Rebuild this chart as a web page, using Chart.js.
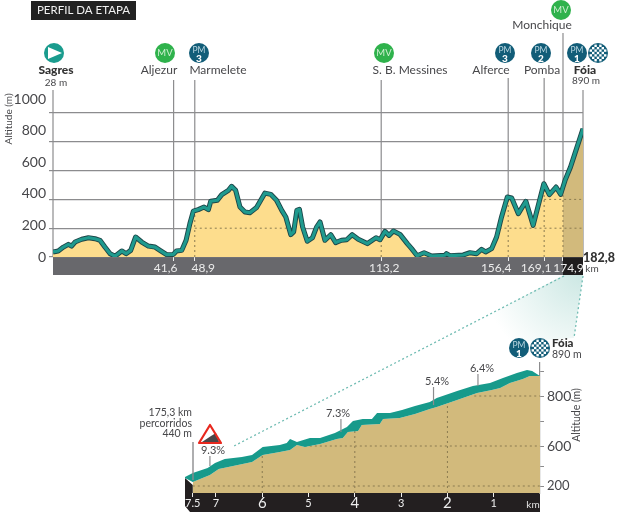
<!DOCTYPE html>
<html>
<head>
<meta charset="utf-8">
<title>Perfil da etapa</title>
<script src="https://cdn.jsdelivr.net/npm/chart.js@4"></script>
<style>
  html, body { margin: 0; padding: 0; background: #fff; overflow: hidden; }
  canvas { position: absolute; left: 0; top: 0; }
</style>
</head>
<body>
<canvas id="stage" width="630" height="515"></canvas>
<canvas id="climb" width="630" height="515"></canvas>
<script>
// stage profile, km / altitude (m)
const stageKm = [0, 1.8, 3.6, 5.3, 6.4, 7.6, 9.9, 12.2, 14.5, 16.2, 17.9, 19.7, 21.4, 23.7, 25.2, 26.8, 28.5, 30.6, 32.9, 35.2, 36.9, 39.2, 41.5, 42.6, 44.4, 45.9, 47.2, 48.4, 50.1, 52.1, 53.6, 54.4, 56.7, 58.2, 60.5, 61.6, 63, 64.5, 66.2, 67.9, 70.2, 73.1, 75.1, 77.1, 78.9, 80.3, 82, 83, 84.1, 85, 86.1, 87.7, 89.5, 90.9, 92.1, 93.8, 95.8, 97.5, 99.5, 101.3, 103.2, 105.3, 108.4, 111.4, 112.8, 114.5, 115.9, 117.4, 119.7, 122.2, 123.7, 125.6, 128, 130.6, 135.2, 135.7, 136.9, 141.5, 143.8, 146.1, 147.8, 149.2, 151.3, 153, 154.7, 156.7, 158.2, 160.5, 163.1, 165.6, 169.3, 171.2, 173.5, 175.1, 175.9, 176.6, 178.5, 180, 182.8];
const stageAlt = [35, 42, 69, 88, 76, 104, 123, 134, 127, 116, 69, 23, 5, 42, 23, 46, 139, 104, 76, 69, 46, 16, 18, 42, 46, 116, 231, 319, 329, 347, 329, 387, 394, 433, 463, 491, 463, 347, 313, 308, 343, 444, 435, 394, 324, 278, 155, 174, 324, 331, 208, 109, 134, 208, 243, 116, 155, 100, 116, 120, 155, 123, 93, 134, 120, 178, 150, 181, 157, 93, 58, 9, 30, 7, 12, 23, 9, 14, 30, 23, 53, 35, 58, 139, 278, 417, 410, 301, 387, 220, 509, 433, 486, 435, 487, 532, 625, 718, 890];
const stageGrid = [0, 200, 400, 600, 800, 1000];
// where the km marks sit on the band
const bandKm = [41.6, 48.9, 113.2, 157, 169.4, 175.9];
const bandLabels = ['41,6', '48,9', '113,2', '156,4', '169,1', '174,9'];
const markKm = [0, 41.6, 48.9, 113.2, 157, 169.4, 175.9, 182.8];
const dottedKm = [48.9, 113.2, 157, 169.4, 175.9];
const dottedAlt = [319, 135, 410, 500, 487];

// last climb, km to go / altitude (m)
const ridgeKm = [7.67, 7.5, 7.18, 7.02, 6.81, 6.44, 6.22, 5.99, 5.62, 5.47, 5.4, 5.25, 4.97, 4.75, 4.43, 4.17, 4.04, 3.83, 3.63, 3.52, 3.24, 2.98, 2.7, 2.38, 2.23, 1.79, 1.45, 1.08, 0.8, 0.5, 0.28, 0.17, 0];
const ridgeAlt = [476, 492, 512, 532, 548, 556, 564, 596, 604, 612, 628, 616, 632, 632, 652, 676, 700, 708, 708, 732, 732, 744, 760, 776, 792, 820, 840, 852, 872, 892, 904, 900, 880];
const climbKm = [7.5, 7.13, 6.94, 6.63, 6.22, 5.99, 5.62, 5.4, 5.25, 5.08, 4.75, 4.39, 4.26, 4.15, 3.93, 3.85, 3.46, 3.39, 3.03, 2.7, 2.38, 2.23, 1.79, 1.36, 1.04, 0.86, 0.65, 0.37, 0.22, 0];
const climbAlt = [456, 484, 508, 520, 536, 564, 576, 584, 604, 596, 608, 628, 632, 656, 660, 684, 688, 708, 712, 728, 748, 756, 784, 812, 824, 832, 852, 868, 880, 880];
const ribbonStartKm = [7.67];
const ribbonStartAlt = [472];
const climbTicks = [7.5, 7, 6, 5, 4, 3, 2, 1];
const climbTickLabels = ['7.5', '7', '6', '5', '4', '3', '2', '1'];
const altTicks = [900, 800, 700, 600, 520, 440];
const altTickLabels = ['', '800', '', '600', '', '200'];
const slopeLabels = ['9.3%', '7.3%', '5.4%', '6.4%'];
const slopeKm = [7.13, 4.3, 2.3, 1.34];
const slopeAlt = [520, 656, 764, 840];

const FONT = 'Lato, "Open Sans", sans-serif';
const INK = '#47474a';
const GRID = '#8c8c8e';

function pts(xs, ys) {
    return xs.map((x, i) => ({ x: x, y: ys[i] }));
}

function text(ctx, str, x, y, size, opts) {
    opts = opts || {};
    ctx.save();
    ctx.font = (opts.weight || '400') + ' ' + size + 'px ' + FONT;
    ctx.fillStyle = opts.color || INK;
    ctx.textAlign = opts.align || 'center';
    ctx.textBaseline = 'middle';
    if (opts.rotate) {
        ctx.translate(x, y);
        ctx.rotate(opts.rotate);
        ctx.fillText(str, 0, 0);
    } else {
        ctx.fillText(str, x, y);
    }
    ctx.restore();
}

function line(ctx, x1, y1, x2, y2, color, width, dash) {
    ctx.save();
    ctx.strokeStyle = color;
    ctx.lineWidth = width;
    if (dash) ctx.setLineDash(dash);
    ctx.beginPath();
    ctx.moveTo(x1, y1);
    ctx.lineTo(x2, y2);
    ctx.stroke();
    ctx.restore();
}

function circle(ctx, x, y, r, color) {
    ctx.fillStyle = color;
    ctx.beginPath();
    ctx.arc(x, y, r, 0, Math.PI * 2);
    ctx.fill();
}

function mvIcon(ctx, x, y) {
    circle(ctx, x, y, 10, '#2fb24c');
    text(ctx, 'MV', x, y, 9.5, { color: '#cdeed0' });
}

function pmIcon(ctx, x, y, n) {
    circle(ctx, x, y, 10, '#125d78');
    text(ctx, 'PM', x, y - 3, 8.5, { color: '#bcd8e2' });
    text(ctx, n, x, y + 5.5, 10, { color: '#fff', weight: '900' });
}

function checkerIcon(ctx, x, y) {
    circle(ctx, x, y, 10, '#125d78');
    ctx.fillStyle = '#fff';
    for (let i = -3; i <= 3; i++) {
        for (let j = -3; j <= 3; j++) {
            if ((i + j) % 2 !== 0) continue;
            const dx = i * 2.4, dy = j * 2.4;
            if (dx * dx + dy * dy < 72) ctx.fillRect(x + dx - 1.2, y + dy - 1.2, 2.4, 2.4);
        }
    }
}

// fixes the axis thickness so the plot area lands where the original has it
function fixWidth(w) { return scale => { scale.width = w; }; }
function fixHeight(h) { return scale => { scale.height = h; }; }
function setTicks(values) { return scale => { scale.ticks = values.map(v => ({ value: v })); }; }

const stageBack = {
    id: 'stageBack',
    beforeDraw(chart) {
        const { ctx, chartArea: a, scales } = chart;
        const x = scales.x;
        // fan towards the zoomed climb
        ctx.save();
        ctx.beginPath();
        ctx.moveTo(564, 275);
        ctx.lineTo(583, 275);
        ctx.lineTo(574, 338);
        ctx.lineTo(470, 345);
        ctx.lineTo(440, 340);
        ctx.closePath();
        ctx.clip();
        const g = ctx.createRadialGradient(582, 272, 4, 582, 272, 100);
        g.addColorStop(0, '#cde8e4');
        g.addColorStop(0.55, '#e9f5f3');
        g.addColorStop(1, '#ffffff');
        ctx.fillStyle = g;
        ctx.fillRect(420, 270, 170, 90);
        ctx.restore();
        line(ctx, 564, 276, 232, 447, '#72bdb4', 1.3, [2, 2.5]);
        line(ctx, 583, 276, 574, 338, '#72bdb4', 1.3, [2, 2.5]);

        // km band, under the axis so its tick marks stay visible
        ctx.fillStyle = '#68686c';
        ctx.fillRect(a.left, a.bottom, a.right - a.left, 18);
        const end = x.getPixelForValue(175.9);
        ctx.fillStyle = '#1f1d1e';
        ctx.fillRect(end, a.bottom, a.right - end, 18);
    },
    beforeDatasetsDraw(chart) {
        const { ctx, chartArea: a, scales } = chart;
        // solid marker lines, the fill covers their lower part
        const tops = [90, 80, 80, 80, 78, 78, 33, 90];
        markKm.forEach((km, i) => {
            const px = scales.x.getPixelForValue(km);
            line(ctx, px, tops[i], px, a.bottom, GRID, 1.2);
        });
    },
    afterDraw(chart) {
        const { ctx, scales } = chart;
        const x = scales.x;
        const offs = [-8, 8.5, 3, -12, -8, 5.5];
        bandKm.forEach((km, i) => {
            text(ctx, bandLabels[i], x.getPixelForValue(km) + offs[i], 268, 12, { color: '#ececec' });
        });

        // title box
        ctx.fillStyle = '#222';
        ctx.fillRect(31, 1, 105, 19);
        text(ctx, 'PERFIL DA ETAPA', 83.5, 10.5, 11.5, { color: '#f2f2f2' });

        text(ctx, 'Altitude (m)', 9, 119, 10, { rotate: -Math.PI / 2 });

        // start
        circle(ctx, 54, 53, 10, '#1a9c8e');
        ctx.fillStyle = '#fff';
        ctx.beginPath();
        ctx.moveTo(48, 47);
        ctx.lineTo(62, 53);
        ctx.lineTo(48, 59);
        ctx.closePath();
        ctx.fill();
        text(ctx, 'Sagres', 56, 70, 12, { weight: '900', color: '#333' });
        text(ctx, '28 m', 56, 83, 10);

        mvIcon(ctx, 165, 53);
        text(ctx, 'Aljezur', 159, 70, 12);
        pmIcon(ctx, 199, 53, '3');
        text(ctx, 'Marmelete', 218, 70, 12);
        mvIcon(ctx, 384, 53);
        text(ctx, 'S. B. Messines', 410, 70, 12);
        pmIcon(ctx, 505, 53, '3');
        text(ctx, 'Alferce', 491, 70, 12);
        pmIcon(ctx, 541, 53, '2');
        text(ctx, 'Pomba', 542, 70, 12);
        mvIcon(ctx, 561, 10);
        text(ctx, 'Monchique', 542, 25, 12);
        pmIcon(ctx, 577, 53, '1');
        checkerIcon(ctx, 598, 53);
        text(ctx, 'Fóia', 585, 70, 12, { weight: '900', color: '#333' });
        text(ctx, '890 m', 586, 81, 10);

        text(ctx, '182,8', 599, 258, 12.5, { weight: '900', color: '#333' });
        text(ctx, 'km', 592, 269, 10);
    }
};

const climbBack = {
    id: 'climbBack',
    beforeDraw(chart) {
        const { ctx, chartArea: a, scales } = chart;
        const left = scales.x.getPixelForValue(7.5);
        // dark base with the bevelled left side
        ctx.fillStyle = '#231f20';
        ctx.beginPath();
        ctx.moveTo(185, 478);
        ctx.lineTo(left, 485);
        ctx.lineTo(left, a.bottom);
        ctx.lineTo(a.right, a.bottom);
        ctx.lineTo(a.right, 512);
        ctx.lineTo(190, 512);
        ctx.lineTo(185, 506);
        ctx.closePath();
        ctx.fill();
    },
    afterDraw(chart) {
        const { ctx, scales } = chart;
        const x = scales.x, y = scales.y;
        line(ctx, 193, 442, 193, 480, GRID, 1.4);

        const labelX = [213, 338, 437, 482];
        const labelY = [450, 413, 381, 368];
        slopeLabels.forEach((s, i) => {
            const px = x.getPixelForValue(slopeKm[i]);
            line(ctx, px, labelY[i] + 6, px, y.getPixelForValue(slopeAlt[i]), GRID, 1.2);
            text(ctx, s, labelX[i], labelY[i], 11);
        });

        text(ctx, '175,3 km', 192, 413, 10.5, { align: 'right' });
        text(ctx, 'percorridos', 192, 423.5, 10.5, { align: 'right' });
        text(ctx, '440 m', 192, 434, 10.5, { align: 'right' });

        // steep slope warning
        ctx.save();
        ctx.lineJoin = 'round';
        ctx.strokeStyle = '#e8281e';
        ctx.fillStyle = '#fff';
        ctx.lineWidth = 2.2;
        ctx.beginPath();
        ctx.moveTo(210, 425);
        ctx.lineTo(221, 443);
        ctx.lineTo(199, 443);
        ctx.closePath();
        ctx.fill();
        ctx.fillStyle = '#4a4648';
        ctx.beginPath();
        ctx.moveTo(202, 442);
        ctx.lineTo(211, 436);
        ctx.lineTo(216, 433);
        ctx.lineTo(219, 442);
        ctx.closePath();
        ctx.fill();
        ctx.beginPath();
        ctx.moveTo(210, 425);
        ctx.lineTo(221, 443);
        ctx.lineTo(199, 443);
        ctx.closePath();
        ctx.stroke();
        ctx.restore();

        pmIcon(ctx, 519, 348, '1');
        checkerIcon(ctx, 540, 348);
        text(ctx, 'Fóia', 552, 343, 11.5, { align: 'left', weight: '900', color: '#333' });
        text(ctx, '890 m', 552, 355, 10.5, { align: 'left' });
        text(ctx, 'km', 533, 505, 10, { color: '#e4e4e4' });
        text(ctx, 'Altitude (m)', 577, 415, 10.5, { rotate: -Math.PI / 2 });
    }
};

const dots = { borderColor: '#8a7a50', borderWidth: 1, borderDash: [2, 3], pointRadius: 0, fill: false, order: 3 };

new Chart(document.getElementById('stage'), {
    type: 'line',
    plugins: [stageBack],
    data: {
        datasets: [
            { data: pts(stageKm, stageAlt), borderWidth: 0, pointRadius: 0, fill: 'origin', backgroundColor: '#fddd8d', order: 6 },
            {
                data: pts(stageKm, stageAlt).filter(p => p.x >= 175.9),
                borderWidth: 0, pointRadius: 0, fill: 'origin', backgroundColor: '#d2ba7c', order: 5
            },
            Object.assign({ data: [{ x: 48.9, y: 200 }, { x: 81, y: 200 }] }, dots),
            Object.assign({ data: [{ x: 154, y: 200 }, { x: 182.8, y: 200 }] }, dots),
            Object.assign({ data: [{ x: 169.4, y: 400 }, { x: 182.8, y: 400 }] }, dots),
            ...dottedKm.map((km, i) => Object.assign({ data: [{ x: km, y: 0 }, { x: km, y: dottedAlt[i] }] }, dots)),
            { data: pts(stageKm, stageAlt), borderColor: '#1d4548', borderWidth: 5, borderJoinStyle: 'round', pointRadius: 0, fill: false, order: 2 },
            { data: pts(stageKm, stageAlt), borderColor: '#1f9a8e', borderWidth: 3.2, borderJoinStyle: 'round', pointRadius: 0, fill: false, order: 1 }
        ]
    },
    options: {
        responsive: false,
        animation: false,
        layout: { padding: { top: 20, right: 47, left: 0, bottom: 0 } },
        plugins: { legend: { display: false }, tooltip: { enabled: false } },
        scales: {
            x: {
                type: 'linear', min: 0, max: 182.8,
                afterBuildTicks: setTicks(bandKm),
                afterFit: fixHeight(258),
                border: { display: false },
                ticks: { display: false },
                grid: { drawOnChartArea: false, tickColor: '#eeeeee', tickLength: 4, lineWidth: 1 }
            },
            y: {
                min: 0, max: 1646, weight: 0,
                afterBuildTicks: setTicks(stageGrid),
                afterFit: fixWidth(0),
                border: { display: false },
                ticks: { display: false },
                grid: { color: GRID, lineWidth: 1.2, tickLength: 4, tickColor: GRID }
            },
            // tick labels sit a little off their grid lines in the original, so they get their own axis
            yLabels: {
                type: 'linear', position: 'left', min: 0, max: 1500, weight: 1,
                afterBuildTicks: setTicks(stageGrid),
                afterFit: fixWidth(53),
                border: { display: false },
                grid: { display: false, drawTicks: false },
                ticks: { color: INK, font: { family: FONT, size: 14 }, padding: 7, callback: v => String(v) }
            }
        }
    }
});

new Chart(document.getElementById('climb'), {
    type: 'line',
    plugins: [climbBack],
    data: {
        datasets: [
            { data: pts(climbKm, climbAlt), borderWidth: 0, pointRadius: 0, fill: 'start', backgroundColor: '#d2ba7c', order: 6 },
            Object.assign({ data: [{ x: 7.5, y: 440 }, { x: 0, y: 440 }] }, dots),
            Object.assign({ data: [{ x: 5.08, y: 600 }, { x: 0, y: 600 }] }, dots),
            Object.assign({ data: [{ x: 1.42, y: 800 }, { x: 0, y: 800 }] }, dots),
            Object.assign({ data: [{ x: 6, y: 412 }, { x: 6, y: 564 }] }, dots),
            Object.assign({ data: [{ x: 4, y: 412 }, { x: 4, y: 660 }] }, dots),
            Object.assign({ data: [{ x: 2, y: 412 }, { x: 2, y: 770 }] }, dots),
            { data: pts(ridgeKm, ridgeAlt), borderWidth: 0, pointRadius: 0, backgroundColor: '#179a8b', fill: { target: 8 }, order: 2 },
            { data: pts(ribbonStartKm.concat(climbKm), ribbonStartAlt.concat(climbAlt)), borderWidth: 0, pointRadius: 0, fill: false, order: 7 }
        ]
    },
    options: {
        responsive: false,
        animation: false,
        layout: { padding: { top: 363, left: 184, right: 0, bottom: 0 } },
        plugins: { legend: { display: false }, tooltip: { enabled: false } },
        scales: {
            x: {
                type: 'linear', reverse: true, min: 0, max: 7.69,
                afterBuildTicks: setTicks(climbTicks),
                afterFit: fixHeight(22),
                border: { display: false },
                grid: { drawOnChartArea: false, tickColor: '#eeeeee', tickLength: 4 },
                ticks: {
                    color: '#eeeeee', padding: 6, maxRotation: 0, autoSkip: false, crossAlign: 'center',
                    font: c => ({ family: FONT, lineHeight: '18px', size: c.tick && [6, 4, 2].includes(c.tick.value) ? 15 : 11 }),
                    callback: v => climbTickLabels[climbTicks.indexOf(v)]
                }
            },
            y: {
                position: 'right', min: 412, max: 932,
                afterBuildTicks: setTicks(altTicks),
                afterFit: fixWidth(90),
                border: { color: GRID, width: 1.2 },
                grid: { drawOnChartArea: false, tickColor: GRID, tickLength: 4 },
                ticks: {
                    color: INK, padding: 3, autoSkip: false,
                    font: c => ({ family: FONT, size: c.tick && c.tick.value === 440 ? 13 : 14 }),
                    callback: v => altTickLabels[altTicks.indexOf(v)]
                }
            }
        }
    }
});
</script>
</body>
</html>
